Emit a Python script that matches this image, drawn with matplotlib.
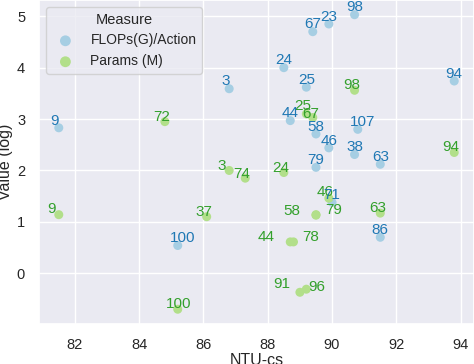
import matplotlib
matplotlib.use('Agg')
import matplotlib.pyplot as plt
import seaborn as sns

# FLOPs(G)/Action series
flops_labels = ['9', '3', '100', '67', '23', '98', '24', '25', '94', '44',
                '58', '107', '46', '38', '63', '79', '71', '86']
flops_x = [81.5, 86.8, 85.2, 89.4, 89.9, 90.7, 88.5, 89.2, 93.8, 88.7,
           89.5, 90.8, 89.9, 90.7, 91.5, 89.5, 90.0, 91.5]
flops_y = [2.83, 3.59, 0.54, 4.70, 4.85, 5.03, 4.00, 3.62, 3.74, 2.97,
           2.71, 2.80, 2.44, 2.31, 2.12, 2.06, 1.38, 0.70]

# Params (M) series
params_labels = ['9', '72', '3', '74', '24', '37', '25', '67', '98', '94',
                 '46', '79', '58', '63', '44', '78', '91', '96', '100']
params_x = [81.5, 84.8, 86.8, 87.3, 88.5, 86.1, 89.2, 89.4, 90.7, 93.8,
            89.9, 89.5, 89.5, 91.5, 88.7, 88.8, 89.0, 89.2, 85.2]
params_y = [1.14, 2.95, 2.00, 1.85, 1.96, 1.10, 3.10, 3.03, 3.56, 2.35,
            1.46, 1.14, 1.13, 1.17, 0.61, 0.61, -0.37, -0.31, -0.70]

# label offsets in pixels (to mimic the de-overlapped layout)
flops_off = {'9': (-4, 7), '3': (-3, 7.3), '100': (5, 7.3), '107': (5, 7.3)}
params_off = {'9': (-7, 5.3), '3': (-7, 4.7), '74': (-4, 4.5), '25': (-3.5, 7.7),
              '67': (-2.3, 4), '46': (-4, 6.7), '79': (18, 5), '58': (-24, 4),
              '44': (-23.7, 4.7), '78': (17.7, 4.7), '91': (-17.7, 8.3),
              '96': (10.7, 2.3), '100': (0.7, 5)}

sns.set_theme(style='darkgrid')
plt.rcParams['font.family'] = ['Liberation Sans', 'DejaVu Sans']

pal = sns.color_palette('Paired')
fig = plt.figure(figsize=(4.74, 3.64), dpi=100)
ax = fig.add_axes([0.0823, 0.110, 0.9177, 0.890])

ax.scatter(flops_x, flops_y, s=42, color=pal[0], edgecolor='none',
           label='FLOPs(G)/Action', zorder=3)
ax.scatter(params_x, params_y, s=42, color=pal[2], edgecolor='none',
           label='Params (M)', zorder=3)

for lab, x, y in zip(params_labels, params_x, params_y):
    dx, dy = params_off.get(lab, (-3, 5))
    ax.annotate(lab, (x, y), xytext=(dx, dy), textcoords='offset pixels',
                ha='center', va='center', fontsize=11, color=pal[3], zorder=4)
for lab, x, y in zip(flops_labels, flops_x, flops_y):
    dx, dy = flops_off.get(lab, (0, 7.3))
    ax.annotate(lab, (x, y), xytext=(dx, dy), textcoords='offset pixels',
                ha='center', va='center', fontsize=11, color=pal[1], zorder=5)

ax.tick_params(labelsize=10.5, pad=4)
ax.set_xlabel('NTU-cs', fontsize=11.5, labelpad=1)
ax.set_ylabel('Value (log)', fontsize=11.5, labelpad=3)
ax.legend(title='Measure', loc='upper left', fontsize=10, title_fontsize=10.5,
          markerscale=1.2)

fig.savefig('out.png', dpi=100)
